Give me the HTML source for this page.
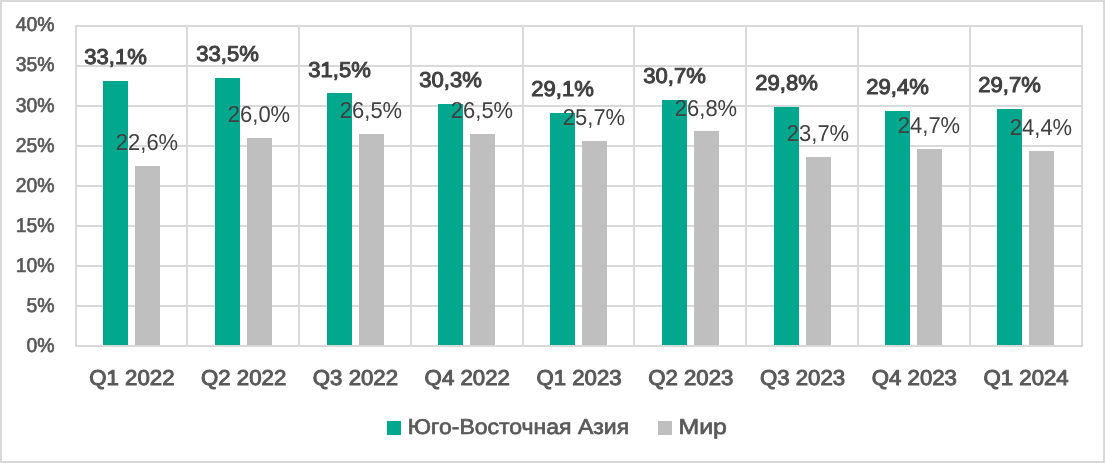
<!DOCTYPE html>
<html><head><meta charset="utf-8"><style>
html,body{margin:0;padding:0;background:#fff;width:1105px;height:463px;overflow:hidden}
svg{display:block;will-change:transform}
text{font-family:"Liberation Sans",sans-serif;text-rendering:geometricPrecision}
.lb{font-size:21.5px;fill:#404040;text-anchor:middle}
.b{font-weight:normal;stroke:#404040;stroke-width:1.0px;font-size:21.5px}
.r{font-size:23px}
.ax{font-size:20px;fill:#595959;text-anchor:end;font-weight:normal;stroke:#595959;stroke-width:0.7px}
.cat{font-size:21.5px;fill:#595959;text-anchor:middle;font-weight:normal;stroke:#595959;stroke-width:1.0px}
.leg{font-size:21.5px;fill:#595959;font-weight:normal;stroke:#595959;stroke-width:0.7px}
</style></head><body>
<svg width="1105" height="463" viewBox="0 0 1105 463">
<rect x="1" y="1" width="1103" height="461" fill="#fff" stroke="#D9D9D9" stroke-width="2"/>
<rect x="75" y="25" width="1008" height="2" fill="#D9D9D9"/>
<rect x="75" y="65" width="1008" height="2" fill="#D9D9D9"/>
<rect x="75" y="105" width="1008" height="2" fill="#D9D9D9"/>
<rect x="75" y="145" width="1008" height="2" fill="#D9D9D9"/>
<rect x="75" y="185" width="1008" height="2" fill="#D9D9D9"/>
<rect x="75" y="225" width="1008" height="2" fill="#D9D9D9"/>
<rect x="75" y="265" width="1008" height="2" fill="#D9D9D9"/>
<rect x="75" y="305" width="1008" height="2" fill="#D9D9D9"/>
<rect x="75" y="345" width="1008" height="2" fill="#D9D9D9"/>
<rect x="75" y="25" width="2" height="322" fill="#D9D9D9"/>
<rect x="186" y="25" width="2" height="322" fill="#D9D9D9"/>
<rect x="298" y="25" width="2" height="322" fill="#D9D9D9"/>
<rect x="410" y="25" width="2" height="322" fill="#D9D9D9"/>
<rect x="522" y="25" width="2" height="322" fill="#D9D9D9"/>
<rect x="633" y="25" width="2" height="322" fill="#D9D9D9"/>
<rect x="745" y="25" width="2" height="322" fill="#D9D9D9"/>
<rect x="857" y="25" width="2" height="322" fill="#D9D9D9"/>
<rect x="969" y="25" width="2" height="322" fill="#D9D9D9"/>
<rect x="1081" y="25" width="2" height="322" fill="#D9D9D9"/>
<rect x="103" y="81.00" width="25" height="264.00" fill="#02A88E"/>
<rect x="135" y="166.00" width="25" height="179.00" fill="#BFBFBF"/>
<rect x="215" y="78.00" width="25" height="267.00" fill="#02A88E"/>
<rect x="247" y="138.00" width="25" height="207.00" fill="#BFBFBF"/>
<rect x="327" y="93.00" width="25" height="252.00" fill="#02A88E"/>
<rect x="359" y="134.00" width="25" height="211.00" fill="#BFBFBF"/>
<rect x="438" y="104.00" width="25" height="241.00" fill="#02A88E"/>
<rect x="470" y="134.00" width="25" height="211.00" fill="#BFBFBF"/>
<rect x="550" y="113.00" width="25" height="232.00" fill="#02A88E"/>
<rect x="582" y="141.00" width="25" height="204.00" fill="#BFBFBF"/>
<rect x="662" y="100.00" width="25" height="245.00" fill="#02A88E"/>
<rect x="694" y="131.00" width="25" height="214.00" fill="#BFBFBF"/>
<rect x="774" y="107.00" width="25" height="238.00" fill="#02A88E"/>
<rect x="806" y="157.00" width="25" height="188.00" fill="#BFBFBF"/>
<rect x="885" y="111.00" width="25" height="234.00" fill="#02A88E"/>
<rect x="917" y="149.00" width="25" height="196.00" fill="#BFBFBF"/>
<rect x="997" y="109.00" width="25" height="236.00" fill="#02A88E"/>
<rect x="1029" y="151.00" width="25" height="194.00" fill="#BFBFBF"/>
<text transform="translate(115.50,64.40) scale(1.026,1)" class="lb b">33,1%</text>
<text transform="translate(147.00,149.70) scale(0.955,1)" class="lb r">22,6%</text>
<text transform="translate(227.50,61.40) scale(1.026,1)" class="lb b">33,5%</text>
<text transform="translate(259.00,121.70) scale(0.955,1)" class="lb r">26,0%</text>
<text transform="translate(339.50,77.40) scale(1.026,1)" class="lb b">31,5%</text>
<text transform="translate(371.00,117.70) scale(0.955,1)" class="lb r">26,5%</text>
<text transform="translate(450.50,87.40) scale(1.026,1)" class="lb b">30,3%</text>
<text transform="translate(482.00,117.70) scale(0.955,1)" class="lb r">26,5%</text>
<text transform="translate(562.50,96.40) scale(1.026,1)" class="lb b">29,1%</text>
<text transform="translate(594.00,124.70) scale(0.955,1)" class="lb r">25,7%</text>
<text transform="translate(674.50,83.40) scale(1.026,1)" class="lb b">30,7%</text>
<text transform="translate(706.00,115.70) scale(0.955,1)" class="lb r">26,8%</text>
<text transform="translate(786.50,90.40) scale(1.026,1)" class="lb b">29,8%</text>
<text transform="translate(818.00,140.70) scale(0.955,1)" class="lb r">23,7%</text>
<text transform="translate(897.50,94.40) scale(1.026,1)" class="lb b">29,4%</text>
<text transform="translate(929.00,132.70) scale(0.955,1)" class="lb r">24,7%</text>
<text transform="translate(1009.50,92.40) scale(1.026,1)" class="lb b">29,7%</text>
<text transform="translate(1041.00,134.70) scale(0.955,1)" class="lb r">24,4%</text>
<text transform="translate(54.50,352.00) scale(0.97,1)" class="ax">0%</text>
<text transform="translate(54.50,312.00) scale(0.97,1)" class="ax">5%</text>
<text transform="translate(54.50,272.00) scale(0.97,1)" class="ax">10%</text>
<text transform="translate(54.50,232.00) scale(0.97,1)" class="ax">15%</text>
<text transform="translate(54.50,192.00) scale(0.97,1)" class="ax">20%</text>
<text transform="translate(54.50,152.00) scale(0.97,1)" class="ax">25%</text>
<text transform="translate(54.50,112.00) scale(0.97,1)" class="ax">30%</text>
<text transform="translate(54.50,71.00) scale(0.97,1)" class="ax">35%</text>
<text transform="translate(54.50,31.00) scale(0.97,1)" class="ax">40%</text>
<text transform="translate(131.89,385.00) scale(1.033,1)" class="cat">Q1 2022</text>
<text transform="translate(243.67,385.00) scale(1.033,1)" class="cat">Q2 2022</text>
<text transform="translate(355.44,385.00) scale(1.033,1)" class="cat">Q3 2022</text>
<text transform="translate(467.22,385.00) scale(1.033,1)" class="cat">Q4 2022</text>
<text transform="translate(579.00,385.00) scale(1.033,1)" class="cat">Q1 2023</text>
<text transform="translate(690.78,385.00) scale(1.033,1)" class="cat">Q2 2023</text>
<text transform="translate(802.56,385.00) scale(1.033,1)" class="cat">Q3 2023</text>
<text transform="translate(914.33,385.00) scale(1.033,1)" class="cat">Q4 2023</text>
<text transform="translate(1026.11,385.00) scale(1.033,1)" class="cat">Q1 2024</text>
<rect x="387" y="421" width="14" height="14" fill="#02A88E"/>
<text transform="translate(407.80,434.00) scale(1.07,1)" class="leg">Юго-Восточная Азия</text>
<rect x="658" y="421" width="14" height="14" fill="#BFBFBF"/>
<text transform="translate(678.50,434.00) scale(1.157,1)" class="leg">Мир</text>
</svg>
</body></html>
